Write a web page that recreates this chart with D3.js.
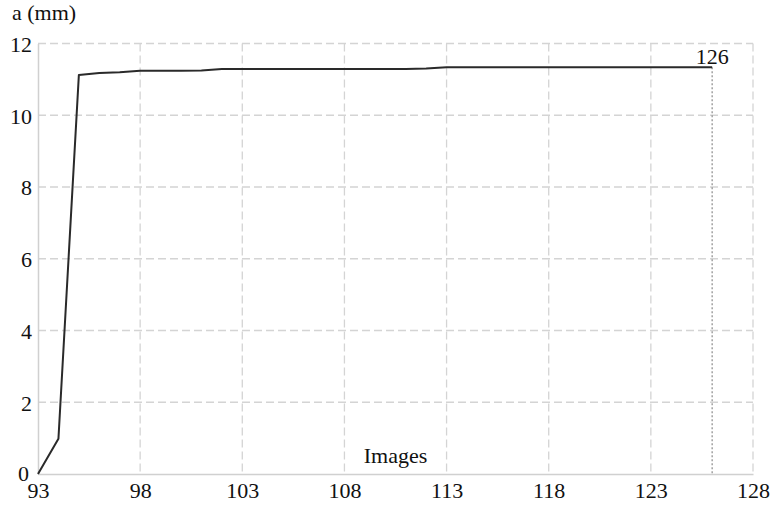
<!DOCTYPE html>
<html>
<head>
<meta charset="utf-8">
<script src="https://cdn.jsdelivr.net/npm/d3@7"></script>
<style>
  html, body { margin: 0; padding: 0; background: #fff; }
  svg { display: block; }
  text { font-family: "Liberation Serif", "Times New Roman", serif; fill: #111; }
</style>
</head>
<body>
<script>
// Crack length a (mm) against image number
const images = [93, 94, 95, 96, 97, 98, 99, 100, 101, 102, 103, 104, 105, 106, 107, 108, 109, 110,
  111, 112, 113, 114, 115, 116, 117, 118, 119, 120, 121, 122, 123, 124, 125, 126];
const crackLength = [0, 0.98, 11.12, 11.18, 11.2, 11.24, 11.24, 11.24, 11.25, 11.29, 11.29, 11.29,
  11.29, 11.29, 11.29, 11.29, 11.29, 11.29, 11.29, 11.3, 11.34, 11.34, 11.34, 11.34, 11.34, 11.34,
  11.34, 11.34, 11.34, 11.34, 11.34, 11.34, 11.34, 11.34];
const xTicks = [93, 98, 103, 108, 113, 118, 123, 128];
const yTicks = [0, 2, 4, 6, 8, 10, 12];
const xDomain = [93, 128];
const yDomain = [0, 12];
const markedImage = 126;

const W = 771, H = 507;
const plotLeft = 38, plotRight = 753, plotTop = 43.5, plotBottom = 474;
const fontSize = "22px";

const svg = d3.select("body").append("svg").attr("width", W).attr("height", H);

const x = d3.scaleLinear().domain(xDomain).range([plotLeft, plotRight]);
const y = d3.scaleLinear().domain(yDomain).range([plotBottom, plotTop]);

const data = images.map((d, i) => ({ img: d, a: crackLength[i] }));

// dashed grid
const grid = svg.append("g").attr("stroke", "#d4d4d4").attr("stroke-width", 1.3)
  .attr("stroke-dasharray", "8,4");
grid.selectAll("line.h").data(yTicks.filter(d => d > 0)).join("line")
  .attr("class", "h")
  .attr("x1", plotLeft).attr("x2", plotRight)
  .attr("y1", d => y(d)).attr("y2", d => y(d));
grid.selectAll("line.v").data(xTicks.filter(d => d > xDomain[0])).join("line")
  .attr("class", "v")
  .attr("y1", plotTop).attr("y2", plotBottom)
  .attr("x1", d => x(d)).attr("x2", d => x(d));

// axes: light solid baselines, no tick marks
const yAxis = d3.axisLeft(y).tickValues(yTicks).tickSize(0).tickPadding(6);
const xAxis = d3.axisBottom(x).tickValues(xTicks).tickSize(0).tickPadding(8);

const gy = svg.append("g").attr("transform", `translate(${plotLeft},0)`).call(yAxis);
const gx = svg.append("g").attr("transform", `translate(0,${plotBottom})`).call(xAxis);
[gx, gy].forEach(g => {
  g.select(".domain").attr("stroke", "#d0d0d0").attr("stroke-width", 1.5);
  g.selectAll("text").style("font-family", '"Liberation Serif", serif')
    .style("font-size", fontSize).attr("fill", "#111");
});
gy.selectAll(".tick text").attr("dy", "0.36em");
gy.selectAll(".tick").filter(d => d === 0).select("text").attr("dx", "-3").attr("dy", "0.3em");
gx.selectAll(".tick text").attr("dy", "0.71em");

// marker at the last image
const lastA = crackLength[images.indexOf(markedImage)];
svg.append("line")
  .attr("x1", x(markedImage)).attr("x2", x(markedImage))
  .attr("y1", y(lastA)).attr("y2", plotBottom)
  .attr("stroke", "#8a8a8a").attr("stroke-width", 1.2).attr("stroke-dasharray", "2,2");

// curve
svg.append("path").datum(data)
  .attr("fill", "none").attr("stroke", "#2a2a2a").attr("stroke-width", 2)
  .attr("stroke-linejoin", "round")
  .attr("d", d3.line().x(d => x(d.img)).y(d => y(d.a)));

svg.append("text")
  .attr("x", x(markedImage)).attr("y", y(lastA) - 3)
  .attr("text-anchor", "middle").style("font-size", fontSize).text(String(markedImage));

// labels
svg.append("text").attr("x", 12).attr("y", 20).style("font-size", fontSize).text("a (mm)");
svg.append("text").attr("x", (plotLeft + plotRight) / 2).attr("y", 463)
  .attr("text-anchor", "middle").style("font-size", fontSize).text("Images");
</script>
</body>
</html>
